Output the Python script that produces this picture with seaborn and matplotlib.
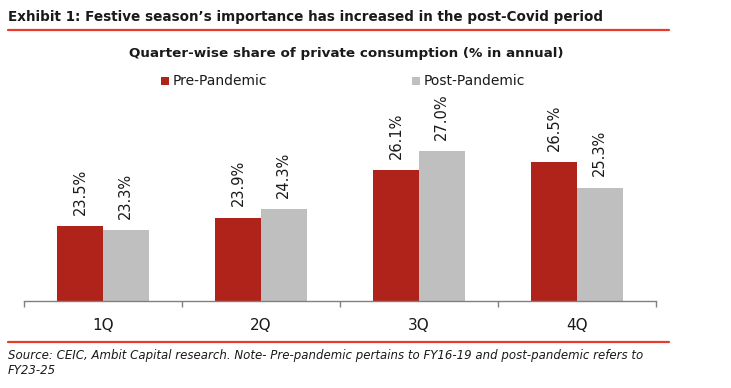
import matplotlib
matplotlib.use("Agg")
import matplotlib.pyplot as plt
import seaborn as sns
import pandas as pd
from matplotlib.lines import Line2D
from matplotlib.patches import Rectangle

quarters = ["1Q", "2Q", "3Q", "4Q"]
pre_pandemic = [23.5, 23.9, 26.1, 26.5]
post_pandemic = [23.3, 24.3, 27.0, 25.3]
series_names = ["Pre-Pandemic", "Post-Pandemic"]
colors = ["#B0231B", "#BFBFBF"]

df = pd.DataFrame({
    "Quarter": quarters * 2,
    "Share": pre_pandemic + post_pandemic,
    "Series": [series_names[0]] * 4 + [series_names[1]] * 4,
})

sns.set_theme(style="white")
plt.rcParams["font.family"] = ["DejaVu Sans"]

W, H = 731, 388
fig = plt.figure(figsize=(W / 100, H / 100), dpi=100)
ax = fig.add_axes([24 / W, (H - 301) / H, 632 / W, 214 / H])

sns.barplot(data=df, x="Quarter", y="Share", hue="Series", palette=colors,
            width=0.576, saturation=1, ax=ax, legend=False, edgecolor="none")
ax.set_ylim(20, 30)
ax.set_xlim(-0.5, 3.5)
ax.set_xlabel("")
ax.set_ylabel("")
ax.set_yticks([])
for s in ["top", "right", "left"]:
    ax.spines[s].set_visible(False)
ax.spines["bottom"].set_color("#808080")
ax.spines["bottom"].set_linewidth(1)
ax.set_xticks([-0.5, 0.5, 1.5, 2.5, 3.5], minor=True)
ax.tick_params(axis="x", which="minor", bottom=True, length=4.5, color="#808080", width=1, direction="out")
ax.tick_params(axis="x", which="major", bottom=True, length=0, pad=12, labelsize=11, labelcolor="#1a1a1a")

for cont in ax.containers:
    ax.bar_label(cont, labels=[f"{v:.1f}%" for v in cont.datavalues], rotation=90,
                 padding=8, fontsize=10.5, color="#1a1a1a")

# Title and decorations
fig.text(8 / W, 1 - 17 / H, "Exhibit 1: Festive season\u2019s importance has increased in the post-Covid period",
         fontsize=9.72, fontweight="bold", va="center", ha="left", color="#1a1a1a")
fig.add_artist(Line2D([8 / W, 669 / W], [1 - 29.5 / H, 1 - 29.5 / H], color="#E8392B", lw=1.6))
fig.text(346 / W, 1 - 53 / H, "Quarter-wise share of private consumption (% in annual)",
         fontsize=9.7, fontweight="bold", va="center", ha="center", color="#1a1a1a")

# Legend
for xs, name, c in zip([161, 412], series_names, colors):
    fig.add_artist(Rectangle((xs / W, 1 - 85 / H), 8 / W, 8 / H, facecolor=c, edgecolor="none",
                             transform=fig.transFigure))
    fig.text((xs + 12) / W, 1 - 81 / H, name, fontsize=10, va="center", ha="left", color="#1a1a1a")

fig.add_artist(Line2D([8 / W, 669 / W], [1 - 342 / H, 1 - 342 / H], color="#E8392B", lw=1.6))
fig.text(8 / W, 1 - 356 / H,
         "Source: CEIC, Ambit Capital research. Note- Pre-pandemic pertains to FY16-19 and post-pandemic refers to",
         fontsize=8.45, style="italic", va="center", ha="left", color="#1a1a1a")
fig.text(8 / W, 1 - 371 / H, "FY23-25",
         fontsize=8.45, style="italic", va="center", ha="left", color="#1a1a1a")

fig.savefig("out.png", dpi=100)
